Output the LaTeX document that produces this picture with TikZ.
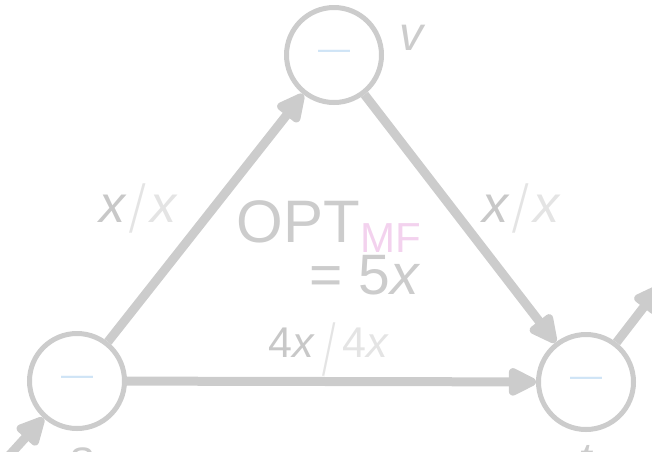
\documentclass[tikz,border=0pt]{standalone}
\usepackage{fontspec}
\setmainfont{Liberation Sans}
\newfontfamily\slashfont{Liberation Serif}
\usetikzlibrary{arrows.meta,calc}
\definecolor{edgegray}{HTML}{CCCCCC}
\definecolor{dashblue}{HTML}{CFE4F6}
\definecolor{mfpink}{HTML}{F3D2EE}
\definecolor{labA}{HTML}{C8C8C8}
\definecolor{labB}{HTML}{E4E4E4}
\definecolor{labC}{HTML}{E4E4E4}
\newcommand\setfs[1]{\fontsize{#1}{#1}\selectfont}
% #1 size, #2 slash size, #3 slash hscale, #4 slash raise, #5 gap, #6 text
\newcommand\flowlab[6]{{\setfs{#1}\color{labA}#6}\hspace{#5}\raisebox{#4}{\scalebox{#3}[1]{\slashfont\setfs{#2}\color{labB}/}}\hspace{#5}{\setfs{#1}\color{labC}#6}}
\begin{document}
\begin{tikzpicture}[x=1pt,y=-1pt,
  vert/.style={circle,draw=edgegray,line width=5pt,minimum size=95pt,inner sep=0pt,fill=white},
  flow/.style={draw=edgegray,line width=9pt,-{Triangle[length=33pt,width=30pt,round]}},
  lab/.style={inner sep=0pt}]
\useasboundingbox (0,0) rectangle (652,451);
\coordinate (sin) at (-25,493);
\coordinate (tout) at (660,286);
\node[vert] (s) at (77,381) {\setfs{32}\color{dashblue}—};
\node[vert] (v) at (334,55) {\setfs{32}\color{dashblue}—};
\node[vert] (t) at (586,382) {\setfs{32}\color{dashblue}—};
\draw[flow] (s) -- (v);
\draw[flow] (v) -- (t);
\draw[flow] (s) -- (t);
\draw[flow] (sin) -- (s);
\draw[flow] (t) -- (tout);
\node[lab,anchor=base] (lsv) at (138,222) {\flowlab{52}{74}{0.8}{-10pt}{4pt}{\itshape x}};
\node[lab,anchor=base] (lvt) at (521,222) {\flowlab{52}{74}{0.8}{-10pt}{4pt}{\itshape x}};
\node[lab,anchor=base] (lst) at (329,357) {\flowlab{43}{80}{0.6}{-18pt}{7pt}{4\textit{x}}};
\node[lab,anchor=base] (lv) at (411,50) {\setfs{48}\color{edgegray}\itshape v};
\node[lab,anchor=base] (ls) at (81,473) {\setfs{48}\color{edgegray}\itshape s};
\node[lab,anchor=base] (lt) at (585,476) {\setfs{48}\color{edgegray}\itshape t};
\node[lab,anchor=east,align=right,font={\fontsize{60}{52}\selectfont},text=edgegray] (opt) at (421,248)
  {OPT\raisebox{-10pt}{\setfs{42}\color{mfpink}MF}\\{\setfs{57}= 5\textit{x}}};
\end{tikzpicture}
\end{document}
